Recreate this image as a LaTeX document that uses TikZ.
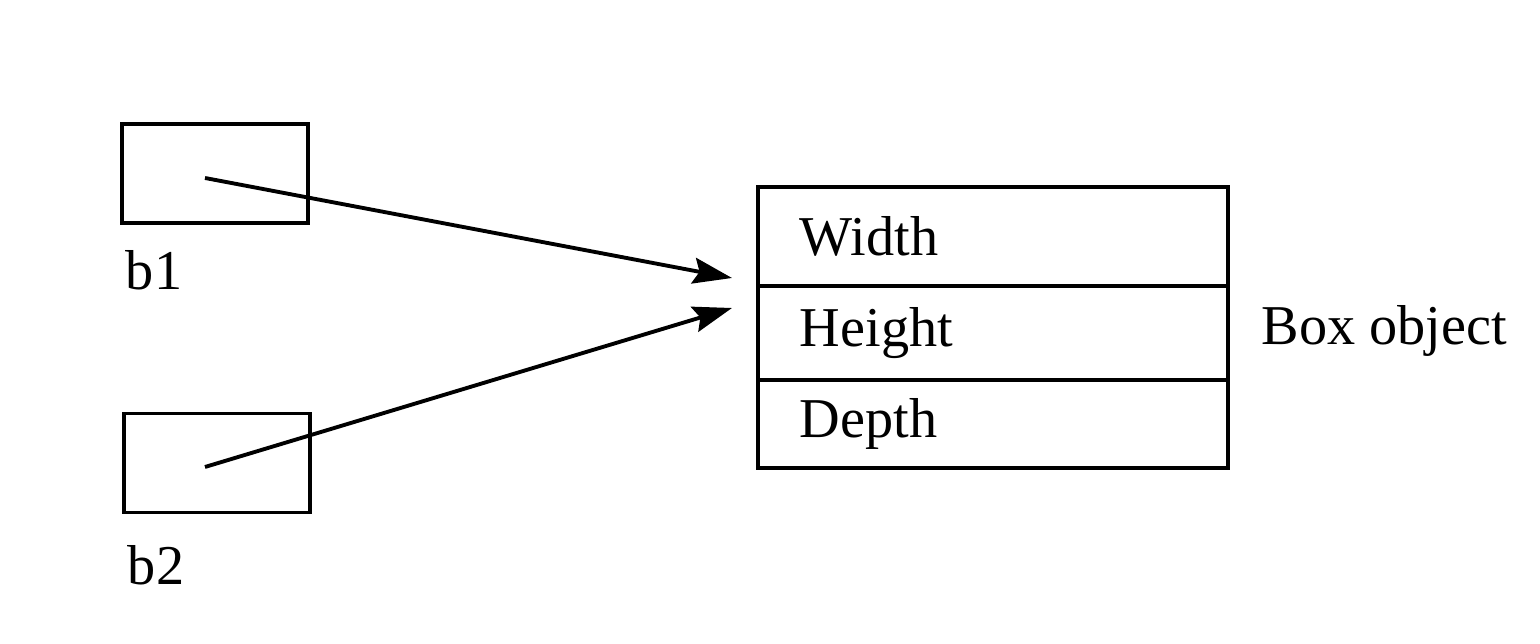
\documentclass[tikz,border=0pt]{standalone}
\usepackage{fontspec}
\setmainfont{Liberation Serif}
\usepackage{tikz}
\usetikzlibrary{%
  arrows.meta,%
  positioning
}

\begin{document}
\begin{tikzpicture}[x=1cm,y=1cm,line width=1.1pt,
    font=\fontsize{16}{19}\selectfont,
    ref/.style={draw,minimum width=1.86cm,minimum height=0.99cm},
    field/.style={draw,outer sep=0pt,minimum width=4.7cm,
      text width=3.86cm,inner xsep=0.42cm,align=left},
    ptr/.style={-{Stealth[length=3.9mm,width=2.6mm,inset=0.6mm]}}]
    \useasboundingbox (0,0) rectangle (15.4,6.44);
    % references
    \node [ref] (b1box) at (2.15,4.705) {};
    \node [ref] (b2box) at (2.17,1.81) {};
    \node [anchor=base west,inner sep=0pt] (b1) at (1.24,3.54) {b1};
    \node [anchor=base west,inner sep=0pt] (b2) at (1.26,0.59) {b2};
    \coordinate (b1start) at (2.05,4.66);
    \coordinate (b2start) at (2.05,1.77);
    % the object
    \node [field,minimum height=0.99cm] (width) at (9.93,4.075) {Width};
    \node [field,minimum height=0.94cm,below=0pt of width] (height) {Height};
    \node [field,minimum height=0.88cm,below=0pt of height] (depth) {Depth};
    \node [anchor=base west,inner sep=0pt] (boxobj) at (12.60,2.99) {Box object};
    \coordinate (b1end) at (7.32,3.66);
    \coordinate (b2end) at (7.32,3.36);
    \draw [ptr] (b1start) -- (b1end);
    \draw [ptr] (b2start) -- (b2end);
\end{tikzpicture}
\end{document}
